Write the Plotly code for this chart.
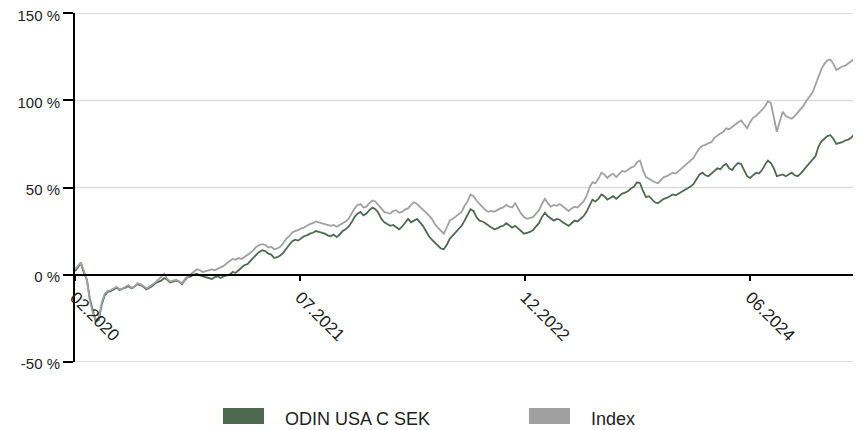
import pandas as pd
import plotly.graph_objects as go

# Weekly observation dates (x categories)
dates = pd.date_range("2020-02-01", periods=263, freq="7D")

fund_name = "ODIN USA C SEK"
index_name = "Index"

fund_values = [
    2, 4, 6.5, 1, -3, -14, -21, -27, -26, -17,
    -12, -10, -9.5, -8.5, -7.5, -9, -8, -7.5, -6.5, -8,
    -7, -5.5, -6, -7, -8.5, -7.5, -6.5, -5, -4, -3.5,
    -2, -3, -4.5, -4, -3.5, -4, -5.5, -3, -1.5, -1,
    0, 0.5, -0.5, -1, -1.5, -2, -2.5, -1.5, -1, -2,
    -1, -0.5, 0, 1.5, 1, 2.5, 4, 5.5, 6, 8,
    9.5, 11.5, 13, 14, 13.5, 12, 11.5, 9.5, 10, 11,
    12.5, 15, 17, 19, 20, 19.5, 21, 22, 22.5, 23.5,
    24, 25, 24.5, 24, 23.5, 22.5, 22, 23, 21.5, 23,
    25, 26, 27.5, 30, 33, 35, 36, 34, 35, 37,
    38.5, 37.5, 35.5, 32, 30, 29, 28, 28.5, 27, 26,
    27.5, 29.5, 32, 30, 31, 32, 30, 28, 25, 22,
    20, 18.5, 17, 15, 14.5, 17, 20.5, 22.5, 24, 26,
    28, 31, 34, 37.5, 36.5, 33, 31, 30.5, 29.5, 28,
    27, 26, 26.5, 27.5, 28, 29.5, 28.5, 27, 28, 26.5,
    25, 23.5, 24, 24.5, 25.5, 27.5, 29.5, 33, 35.5, 33.5,
    32, 31, 32, 31.5, 30, 29, 28, 29.5, 31, 30.5,
    32, 33.5, 36, 40, 43, 42, 43.5, 46, 45, 43,
    44, 45, 43.5, 45, 46.5, 47, 48, 49.5, 50.5, 53,
    52.5, 48, 44.5, 45, 43, 41.5, 41, 42.5, 43.5, 44,
    45, 46, 45.5, 46.5, 47.5, 48.5, 49.5, 50.5, 52, 55,
    57.5, 58.5, 57, 56.5, 58, 59.5, 61, 60.5, 62.5, 63.5,
    61, 60, 62.5, 64, 63.5, 60, 56.5, 55.5, 57, 58.5,
    58, 60, 63, 65.5, 64, 61, 56.5, 57, 57.5, 56.5,
    57.5, 58.5, 57, 56.5, 58, 60, 62.5, 64, 66, 68,
    73.5, 76.5, 78, 79.5, 80, 78, 75, 75.5, 76, 77,
    77.5, 78.5, 80.5,
]

index_values = [
    3, 5, 7, 2, -3, -15, -22, -26, -25, -16,
    -11, -9.5, -9, -8, -7, -8.5, -8, -7, -6, -7.5,
    -7, -5, -5.5, -6.5, -8, -7, -6, -4.5, -3, -1.5,
    0.5, -2.5, -4, -3.5, -3, -4, -5, -2.5, -1, 0.5,
    1.5, 3, 2.5, 1.5, 2, 2.5, 3, 2.5, 3.5, 4,
    5, 6.5, 7.5, 9, 8.5, 9.5, 9, 10, 11, 12.5,
    14, 16, 17, 17.5, 17, 15.5, 16, 14.5, 15, 16,
    18, 20.5, 22, 24, 25, 25.5, 26.5, 27, 28, 29,
    29.5, 30.5, 30, 29.5, 29, 28.5, 28, 28.5, 27.5, 28.5,
    29.5, 30.5, 32, 35, 38, 40, 40.5, 38.5, 39, 41,
    42.5, 42, 40, 37.5, 36, 35.5, 35, 36.5, 37, 35.5,
    36, 37.5, 38, 40, 41.5, 40.5, 39, 37.5, 35.5, 34,
    32, 29, 27, 25, 23.5, 27, 31, 32, 33.5, 34.5,
    36, 39.5, 42, 46, 45, 42.5, 40.5, 38.5, 37, 36,
    36.5, 36, 37, 38, 38.5, 40, 39, 38.5, 41, 38,
    35, 33, 32, 32.5, 33, 35, 37, 40.5, 43.5, 41,
    39, 40, 39.5, 40.5, 39, 37.5, 36.5, 38, 39, 38.5,
    40, 42, 45, 50, 53, 52.5, 55, 58.5, 57.5, 55.5,
    57, 58, 56, 58, 59.5, 59, 60, 61.5, 62, 64.5,
    65.5, 60, 56, 55, 54, 53, 52.5, 54.5, 56, 56.5,
    57.5, 58.5, 58, 59.5, 60.5, 62, 64, 65.5, 67, 70,
    72.5, 74, 74.5, 75.5, 76, 78.5, 80, 81, 82, 84,
    83.5, 85, 86, 87.5, 88.5, 86, 84, 87.5, 90, 91,
    92.5, 94.5, 96.5, 99.5, 98.5, 91, 82, 88, 93.5, 91,
    90, 89.5, 91, 93, 94.5, 97, 100, 102, 104.5, 109,
    114, 118, 121, 123, 123.5, 121, 117.5, 118.5, 119.5, 120,
    121, 122.5, 124,
]

tick_dates = ["2020-02-01", "2021-07-15", "2022-12-27", "2024-06-09"]
tick_labels = ["02.2020", "07.2021", "12.2022", "06.2024"]
y_ticks = [-50, 0, 50, 100, 150]
y_tick_labels = ["-50 %", "0 %", "50 %", "100 %", "150 %"]

fund_color = "#4d6a50"
index_color = "#a0a0a0"

fig = go.Figure()
fig.add_trace(go.Scatter(x=dates, y=fund_values, mode="lines", name=fund_name,
                         line=dict(color=fund_color, width=1.8), showlegend=False))
fig.add_trace(go.Scatter(x=dates, y=index_values, mode="lines", name=index_name,
                         line=dict(color=index_color, width=1.8), showlegend=False))

# Horizontal gridlines (drawn as shapes so the edge lines at -50 and 150 show)
for v in y_ticks:
    if v != 0:
        fig.add_shape(type="line", xref="paper", yref="y", x0=0, x1=1, y0=v, y1=v,
                      line=dict(color="#dcdcdc", width=1.5), layer="below")

fig.update_layout(
    width=853, height=422,
    margin=dict(l=67, r=6, t=5, b=68),
    paper_bgcolor="white", plot_bgcolor="white",
    font=dict(family="Liberation Sans, Arial, sans-serif", size=15, color="#222"),
    xaxis=dict(
        type="date",
        range=["2020-02-01", "2025-02-10"],
        tickvals=tick_dates, ticktext=tick_labels,
        tickangle=45, tickfont=dict(size=17),
        showgrid=False, zeroline=False,
        showline=True, linecolor="black", linewidth=2,
        ticks="outside", ticklen=5, tickwidth=1.5, tickcolor="black",
        anchor="free", position=0.2497, automargin=False,
    ),
    yaxis=dict(
        range=[-50.2, 150.2],
        tickvals=y_ticks, ticktext=y_tick_labels,
        ticklabeloverflow="allow", ticklabelshift=2,
        showgrid=False, zeroline=False,
        showline=True, linecolor="black", linewidth=2,
        ticks="outside", ticklen=10, tickwidth=1.5, tickcolor="black",
        automargin=False,
    ),
)

# Legend drawn as swatches + labels below the plot
legend_items = [(fund_name, fund_color, 0.1897, 0.2667), (index_name, index_color, 0.582, 0.659)]
for label, color, sx, tx in legend_items:
    fig.add_shape(type="rect", xref="paper", yref="paper",
                  x0=sx, x1=sx + 0.0526, y0=-0.132, y1=-0.178,
                  fillcolor=color, line=dict(width=0))
    fig.add_annotation(text=label, xref="paper", yref="paper", x=tx, y=-0.163,
                       xanchor="left", yanchor="middle", showarrow=False,
                       font=dict(size=18, color="#222"))

fig.write_html("out.html")
